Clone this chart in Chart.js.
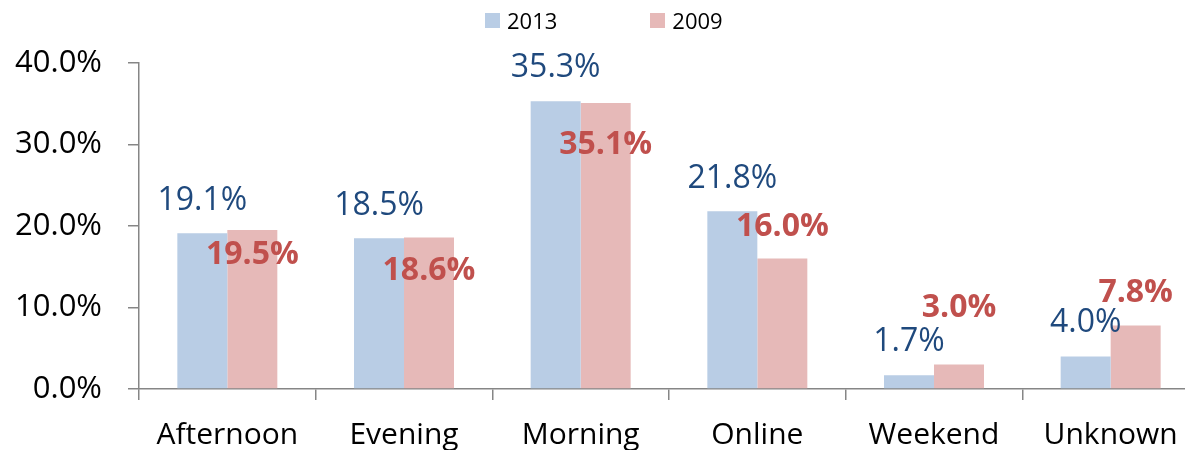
<!DOCTYPE html>
<html lang="en">
<head>
    <meta charset="UTF-8">
    <title>Share by class time</title>
    <script src="https://cdn.jsdelivr.net/npm/chart.js"></script>
    <style>
        body {
            margin: 0;
            background: #ffffff;
            overflow: hidden;
            font-family: 'Open Sans', sans-serif;
        }

        .wrap {
            position: relative;
            width: 1200px;
            height: 450px;
        }

        /* Legend sits above the plot, like the original */
        .legend {
            position: absolute;
            top: 5px;
            left: 485px;
            display: flex;
            gap: 93px;
            font-size: 22px;
            color: #000;
        }

        .legend span {
            display: flex;
            align-items: center;
        }

        .legend i {
            display: inline-block;
            width: 15px;
            height: 15px;
            margin-right: 7px;
        }
    </style>
</head>
<body>
    <div class="wrap">
        <div class="legend" id="legend"></div>
        <canvas id="chart" width="1200" height="450"></canvas>
    </div>

    <script>
        // Data
        const categories = ['Afternoon', 'Evening', 'Morning', 'Online', 'Weekend', 'Unknown'];
        const seriesNames = ['2013', '2009'];
        const values2013 = [19.1, 18.5, 35.3, 21.8, 1.7, 4.0];
        const values2009 = [19.5, 18.6, 35.1, 16.0, 3.0, 7.8];
        const yTicks = [0, 10, 20, 30, 40];

        const barColors = ['#B9CDE5', '#E6B9B8'];
        const labelColors = ['#1F497D', '#C0504D'];

        // Where each value label sits, measured from the top of its bar (px)
        const labelShift = [
            [-32, -32, -33, -32, -33, -34],
            [25, 33, 42, -32, -57, -33]
        ];

        // Legend (HTML, built from the series names)
        const legend = document.getElementById('legend');
        seriesNames.forEach((name, i) => {
            const item = document.createElement('span');
            item.innerHTML = '<i style="background:' + barColors[i] + '"></i>' + name;
            legend.appendChild(item);
        });

        // Draws the value labels next to the bars
        const valueLabels = {
            id: 'valueLabels',
            afterDatasetsDraw(chart) {
                const ctx = chart.ctx;
                ctx.save();
                ctx.textAlign = 'center';
                ctx.textBaseline = 'middle';
                chart.data.datasets.forEach((ds, di) => {
                    const meta = chart.getDatasetMeta(di);
                    ctx.fillStyle = labelColors[di];
                    ctx.font = (di === 1 ? 'bold ' : '') + '32px "Open Sans", sans-serif';
                    meta.data.forEach((bar, i) => {
                        const text = ds.data[i].toFixed(1) + '%';
                        ctx.fillText(text, bar.x, bar.y + labelShift[di][i]);
                    });
                });
                ctx.restore();
            }
        };

        const axisColor = '#868686';

        new Chart(document.getElementById('chart'), {
            type: 'bar',
            data: {
                labels: categories,
                datasets: [
                    { label: seriesNames[0], data: values2013, backgroundColor: barColors[0] },
                    { label: seriesNames[1], data: values2009, backgroundColor: barColors[1] }
                ]
            },
            options: {
                responsive: false,
                animation: false,
                layout: { padding: { top: 63, right: 1, left: 0, bottom: 0 } },
                datasets: {
                    bar: { categoryPercentage: 0.566, barPercentage: 1.0 }
                },
                plugins: {
                    legend: { display: false },
                    tooltip: { enabled: false }
                },
                scales: {
                    x: {
                        grid: { offset: true, drawOnChartArea: false, tickLength: 11, color: axisColor, lineWidth: 1.5 },
                        border: { color: axisColor, width: 1.5 },
                        ticks: {
                            color: '#000',
                            padding: 17,
                            font: { family: 'Open Sans', size: 30 }
                        },
                        afterFit(scale) { scale.height = 61; }
                    },
                    y: {
                        min: 0,
                        max: 40,
                        afterBuildTicks(scale) {
                            scale.ticks = yTicks.map(v => ({ value: v }));
                        },
                        grid: { drawOnChartArea: false, tickLength: 11, color: axisColor, lineWidth: 1.5 },
                        border: { color: axisColor, width: 1.5 },
                        ticks: {
                            color: '#000',
                            padding: 26,
                            font: { family: 'Open Sans', size: 31 },
                            callback: v => v.toFixed(1) + '%'
                        },
                        afterFit(scale) { scale.width = 139; }
                    }
                }
            },
            plugins: [valueLabels]
        });
    </script>
</body>
</html>
